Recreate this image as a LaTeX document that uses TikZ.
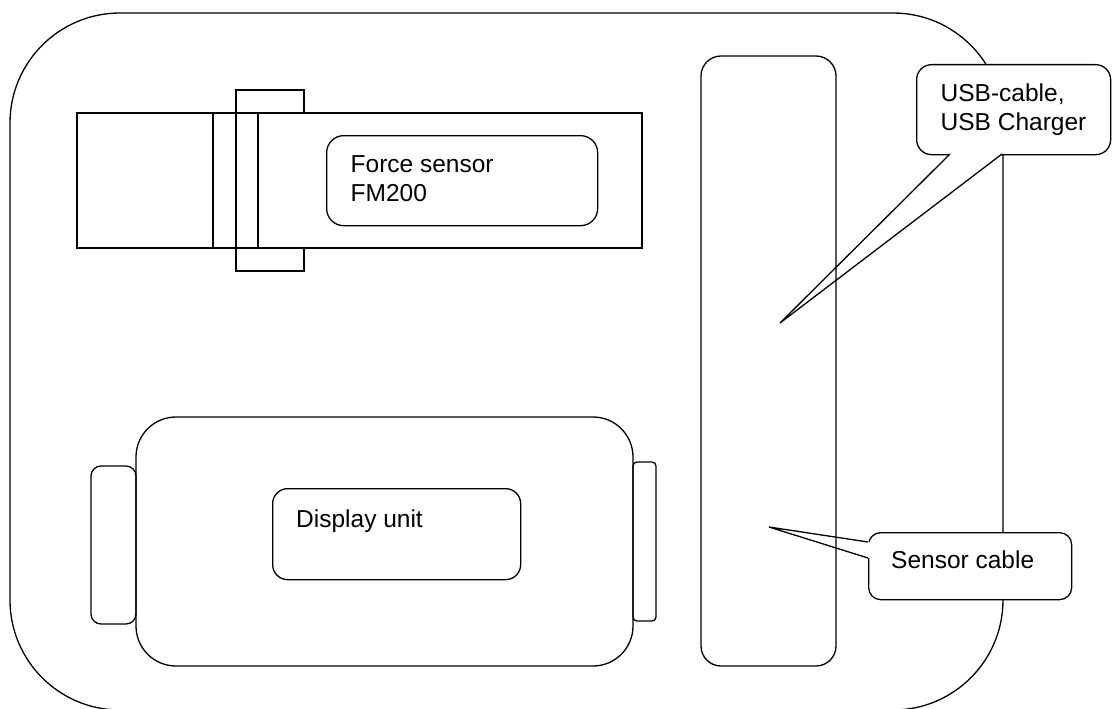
\documentclass[tikz,border=0pt]{standalone}
\usepackage{fontspec}
\setmainfont{Liberation Sans}
\begin{document}
\begin{tikzpicture}[x=1pt,y=-1pt,
  line/.style={draw=black,line width=1.3pt},
  lbl/.style={anchor=base west,inner sep=0pt,font=\fontsize{24.5}{29}\selectfont,align=left},
  box/.style={line,fill=white,anchor=north west,inner sep=0pt}]
\useasboundingbox (0,0) rectangle (1112,709);
% outer case
\draw[line,rounded corners=110pt] (10,13) rectangle (1003,710);
% force sensor
\draw[line] (236,90) rectangle (304,113);
\draw[line] (236,248) rectangle (304,271);
\draw[line] (77,113) rectangle (642,248);
\draw[line] (213,113) -- (213,248);
\draw[line] (236,113) -- (236,248);
\draw[line] (258,113) -- (258,248);
\node[box,rounded corners=17pt,minimum width=271pt,minimum height=90pt] (forcebox) at (326,135) {};
\node[lbl] (forcetxt) at (350.5,201.5) {Force sensor\\FM200};
% display unit
\draw[line,rounded corners=10pt] (91,466) rectangle (136,624);
\draw[line,rounded corners=4pt] (633,462) rectangle (656,621);
\draw[line,rounded corners=40pt] (136,417) rectangle (633,666);
\node[box,rounded corners=15pt,minimum width=248pt,minimum height=91pt] (dispbox) at (272,488) {};
\node[lbl] (disptxt) at (296,527) {Display unit};
% callouts
\node[box,rounded corners=15pt,minimum width=194pt,minimum height=90pt] (usb) at (916,64) {};
\node[box,rounded corners=12pt,minimum width=203pt,minimum height=67pt] (sens) at (868,532) {};
\coordinate (usbtip) at (780,323);
\coordinate (senstip) at (769,527);
\coordinate (usbA) at (950,154);
\coordinate (usbB) at (1002,154);
\coordinate (sensA) at (868,542);
\coordinate (sensB) at (868,558);
\fill[white] (950,149) -- (usbA) -- (usbtip) -- (usbB) -- (1002,149) -- cycle;
\fill[white] (873,542) -- (sensA) -- (senstip) -- (sensB) -- (873,558) -- cycle;
% cable compartment
\draw[line,rounded corners=20pt] (701,56) rectangle (836,666);
\draw[line,line join=miter] (usbA) -- (usbtip) -- (usbB);
\draw[line,line join=miter] (sensA) -- (senstip) -- (sensB);
\node[lbl] (usbtxt) at (940.5,131) {USB-cable,\\USB Charger};
\node[lbl] (senstxt) at (891,568) {Sensor cable};
\end{tikzpicture}
\end{document}
